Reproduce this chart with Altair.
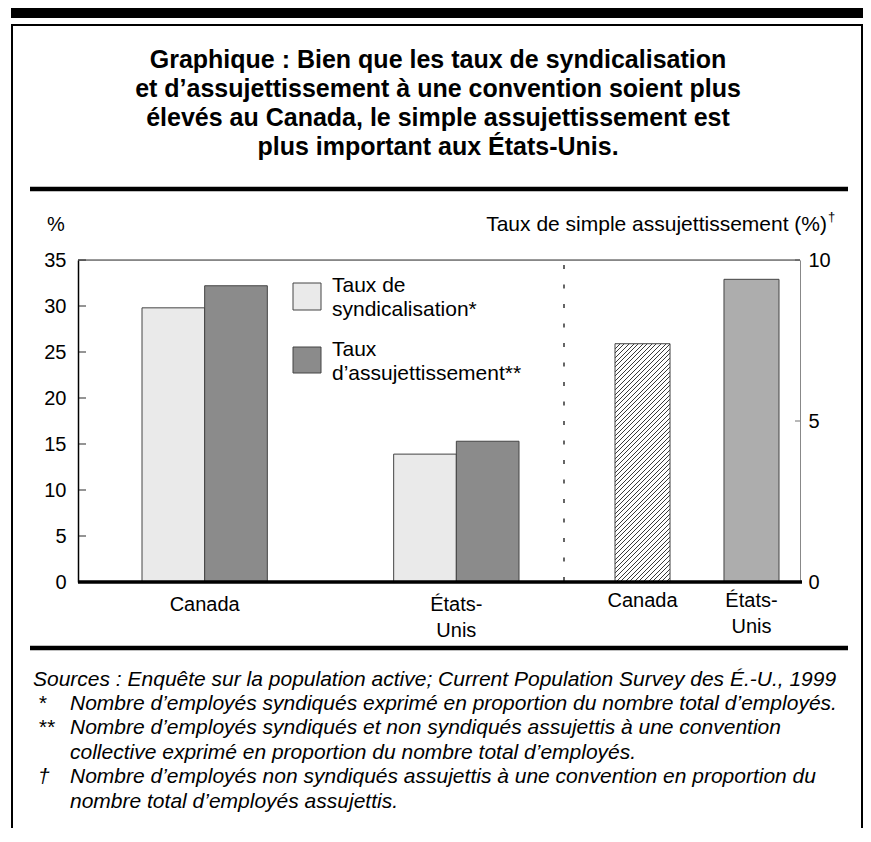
import altair as alt
import pandas as pd

# ---------------- data ----------------
countries = ["Canada", "États-Unis"]
country_labels = ["Canada", "États-\nUnis"]
series = ["Taux de syndicalisation*", "Taux d’assujettissement**"]
union_rate = [29.8, 13.9]
coverage_rate = [32.2, 15.3]
simple_coverage = [7.4, 9.4]
left_ticks = [0, 5, 10, 15, 20, 25, 30, 35]
right_ticks = [0, 5, 10]

title_lines = [
    "Graphique : Bien que les taux de syndicalisation",
    "et d’assujettissement à une convention soient plus",
    "élevés au Canada, le simple assujettissement est",
    "plus important aux États-Unis.",
]
legend_lines = [["Taux de", "syndicalisation*"], ["Taux", "d’assujettissement**"]]
left_axis_title = "%"
right_axis_title = "Taux de simple assujettissement (%)"
right_axis_mark = "†"
source_line = "Sources :  Enquête sur la population active; Current Population Survey des É.-U., 1999"
note_marks = ["*", "**", "†"]
note_mark_rows = [0, 1, 3]
note_lines = [
    "Nombre d’employés syndiqués exprimé en proportion du nombre total d’employés.",
    "Nombre d’employés syndiqués et non syndiqués assujettis à une convention",
    "collective exprimé en proportion du nombre total d’employés.",
    "Nombre d’employés non syndiqués assujettis à une convention en proportion du",
    "nombre total d’employés assujettis.",
]

# ---------------- tables ----------------
left_df = pd.DataFrame({
    "country": countries * 2,
    "series": [series[0]] * 2 + [series[1]] * 2,
    "value": union_rate + coverage_rate,
})
left_lab = pd.DataFrame({"country": countries, "label": country_labels})
left_tk = pd.DataFrame({"value": left_ticks})
right_df = pd.DataFrame({"country": countries, "value": simple_coverage, "label": country_labels})
right_tk = pd.DataFrame({"value": right_ticks})
one = pd.DataFrame({"k": [0]})

FONT = "Liberation Sans"
W, H = 722, 322
LIGHT, DARK, GREY = "#eaeaea", "#8b8b8b", "#adadad"
EDGE = "#444444"
NOTE_PITCH = 24.4

# ---------------- left panel ----------------
x_left = alt.X("country:N", sort=countries, axis=None,
               scale=alt.Scale(range=[64, 441], paddingInner=0.502, paddingOuter=0))
y_left = alt.Y("value:Q", scale=alt.Scale(domain=[0, 35], nice=False, zero=True),
               axis=alt.Axis(values=left_ticks, ticks=False, grid=False, title=None,
                             domainColor="black", domainWidth=1.5, labelFont=FONT,
                             labelFontSize=20, labelColor="black", labelPadding=12,
                             labelFlush=False))

bars_left = alt.Chart(left_df).mark_bar(stroke=EDGE, strokeWidth=1).encode(
    x=x_left,
    xOffset=alt.XOffset("series:N", sort=series,
                        scale=alt.Scale(paddingInner=0, paddingOuter=0)),
    y=y_left,
    fill=alt.Fill("series:N", scale=alt.Scale(domain=series, range=[LIGHT, DARK]), legend=None),
)
ticks_left = alt.Chart(left_tk).mark_tick(orient="horizontal", size=8, thickness=1.2,
                                          color="black").encode(y=y_left, x=alt.value(4))
labels_left = alt.Chart(left_lab).mark_text(font=FONT, fontSize=20, color="black",
                                            baseline="alphabetic", lineBreak="\n",
                                            lineHeight=26).encode(
    x=x_left, y=alt.value(351), text="label:N")
left_layer = alt.layer(bars_left, ticks_left, labels_left)

# ---------------- right panel ----------------
x_right = alt.X("country:N", sort=countries, axis=None,
                scale=alt.Scale(range=[537, 701], paddingInner=0.495, paddingOuter=0))
y_right = alt.Y("value:Q", scale=alt.Scale(domain=[0, 10], nice=False, zero=True),
                axis=alt.Axis(orient="right", values=right_ticks, ticks=False, grid=False,
                              title=None, domainColor="#888888", domainWidth=1,
                              labelFont=FONT, labelFontSize=20, labelColor="black",
                              labelPadding=8, labelFlush=False))

# hatch pattern built as a striped linear gradient (45 degree "/" lines)
bw = 55.0
bh = simple_coverage[0] / 10 * H
k = (bw + bh) / (bw * bw + bh * bh)
n_str = int(round((bw + bh) / 4.6))
stops = []
for i in range(n_str):
    a = i / n_str
    b = (i + 0.22) / n_str
    c = (i + 1) / n_str
    stops += [alt.GradientStop(offset=a, color="#3a3a3a"),
              alt.GradientStop(offset=b, color="#3a3a3a"),
              alt.GradientStop(offset=b, color="#ffffff"),
              alt.GradientStop(offset=c, color="#ffffff")]
hatch = alt.LinearGradient(gradient="linear", stops=stops, x1=0, y1=0,
                           x2=bw * k, y2=bh * k)

bars_right = alt.Chart(right_df).transform_filter(
    alt.datum.country == countries[1]).mark_bar(fill=GREY, stroke=EDGE, strokeWidth=1).encode(
    x=x_right, y=y_right)
bars_hatch = alt.Chart(right_df).transform_filter(
    alt.datum.country == countries[0]).mark_bar(fill=hatch, stroke=EDGE, strokeWidth=1).encode(
    x=x_right, y=y_right)
ticks_right = alt.Chart(right_tk).mark_tick(orient="horizontal", size=5, thickness=1.2,
                                            color="#555555").encode(y=y_right, x=alt.value(W - 2.5))
labels_right = alt.Chart(right_df).mark_text(font=FONT, fontSize=20, color="black",
                                             baseline="alphabetic", lineBreak="\n",
                                             lineHeight=26).encode(
    x=x_right, y=alt.value(347), text="label:N")
right_layer = alt.layer(bars_right, bars_hatch, ticks_right, labels_right)

# ---------------- frame & decorations ----------------
def rule(x, x2, y, y2, color="black", width=1.0, dash=None):
    kw = dict(color=color, strokeWidth=width)
    if dash:
        kw["strokeDash"] = dash
    return alt.Chart(one).mark_rule(**kw).encode(
        x=alt.value(x), x2=alt.value(x2), y=alt.value(y), y2=alt.value(y2))

def text(t, x, y, size=20, align="left", bold=False, italic=False, lh=24):
    kw = dict(font=FONT, fontSize=size, align=align, baseline="alphabetic", color="black",
              lineHeight=lh)
    if bold:
        kw["fontWeight"] = "bold"
    if italic:
        kw["fontStyle"] = "italic"
    return alt.Chart(one).mark_text(**kw).encode(
        x=alt.value(x), y=alt.value(y), text=alt.value(t))

def box(x, x2, y, y2, fill, stroke=None):
    kw = dict(fill=fill)
    if stroke:
        kw.update(stroke=stroke, strokeWidth=1)
    return alt.Chart(one).mark_rect(**kw).encode(
        x=alt.value(x), x2=alt.value(x2), y=alt.value(y), y2=alt.value(y2))

NOTE_Y0 = 450
decor = [
    box(-67, 785, -252, -242, "black"),              # top black band
    rule(-67, 785, -235, -235, width=2),             # outer frame top
    rule(-66, -66, -236, 570, width=2),              # outer frame left
    rule(784, 784, -236, 570, width=2),              # outer frame right
    text(title_lines, 360, -192, size=25, align="center", bold=True, lh=29),
    rule(-48, 770, -71, -71, width=4.5),             # rule under title
    rule(-48, 770, 388, 388, width=4.5),             # rule above notes
    rule(0, W, 0, 0, color="#333333", width=1),      # plot top frame
    rule(486, 486, 5, H, width=1.2, dash=[4, 15.5]), # separator
    rule(0, W + 2, H, H, width=3.5),                 # baseline
    text(left_axis_title, -31, -29, size=20),
    text(right_axis_title, 749, -29, size=21, align="right"),
    text(right_axis_mark, 750, -39, size=13),
    box(215, 243, 23, 50, LIGHT, EDGE),
    box(215, 243, 87, 113, DARK, EDGE),
    text(legend_lines[0], 254, 32, size=21, lh=24),
    text(legend_lines[1], 254, 96, size=21, lh=24),
    text(source_line, -45, 426, size=21, italic=True),
    text(note_lines, -8, NOTE_Y0, size=21, italic=True, lh=NOTE_PITCH),
]
for m, r in zip(note_marks, note_mark_rows):
    decor.append(text(m, -40, NOTE_Y0 + r * NOTE_PITCH, size=21, italic=True))

chart = alt.layer(left_layer, right_layer, *decor).resolve_scale(
    x="independent", y="independent", xOffset="independent", fill="independent"
).properties(
    width=W, height=H,
    autosize=alt.AutoSizeParams(type="none"),
    padding={"left": 70, "top": 252, "right": 63, "bottom": 246},
).configure_view(stroke=None).configure(background="white")

chart.save("out.html", embed_options={"renderer": "svg", "actions": False})
